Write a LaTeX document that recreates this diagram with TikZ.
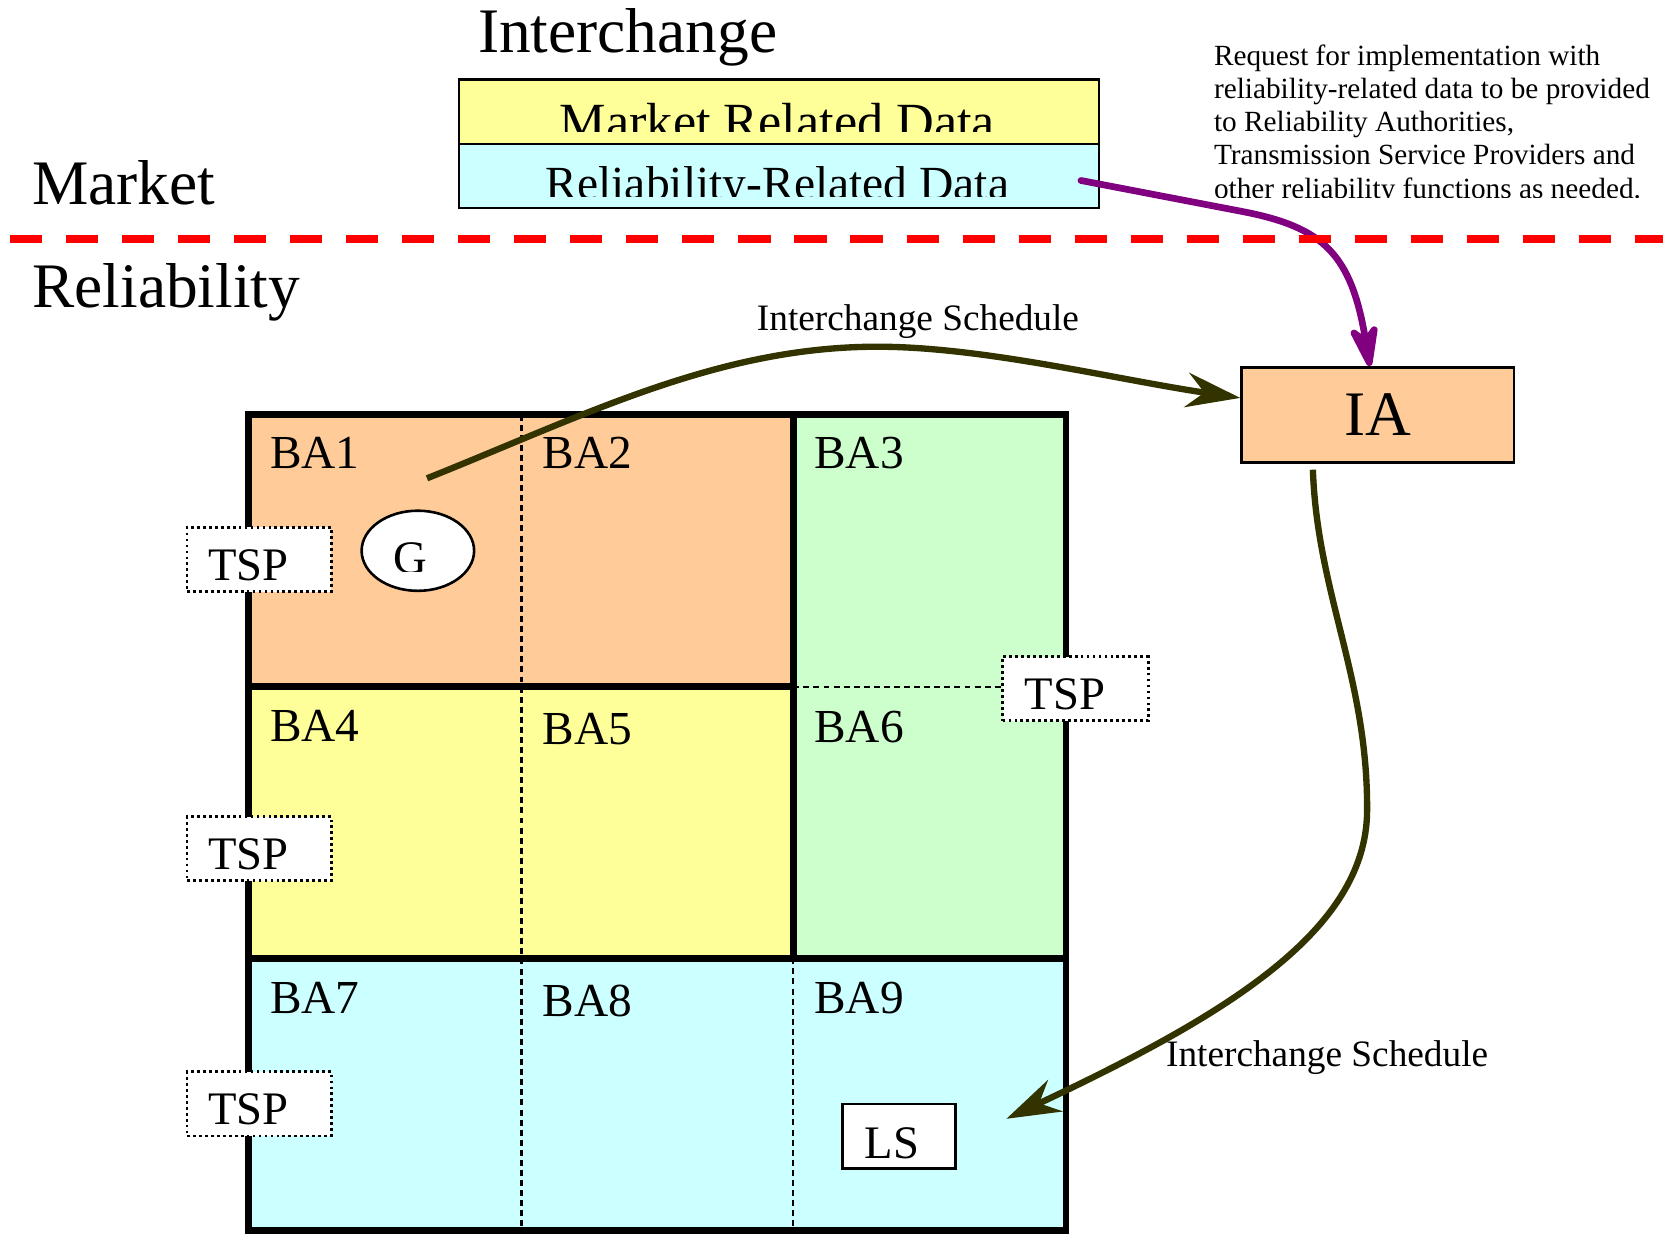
\documentclass[tikz,border=0pt]{standalone}
\usepackage{fontspec}
\setmainfont{Liberation Serif}
\usetikzlibrary{arrows.meta,shapes.geometric,calc}
\definecolor{baorange}{HTML}{FFCC99}
\definecolor{bayellow}{HTML}{FFFF99}
\definecolor{bagreen}{HTML}{CCFFCC}
\definecolor{bacyan}{HTML}{CCFFFF}
\definecolor{olivedark}{HTML}{333300}
\definecolor{arrowpurple}{HTML}{800080}
\definecolor{dashred}{HTML}{FF0000}
\newcommand\mytitlefont{\fontsize{17pt}{20pt}\selectfont}
\newcommand\mybafont{\fontsize{12.7pt}{15pt}\selectfont}
\newcommand\mytspfont{\fontsize{12.5pt}{15pt}\selectfont}
\newcommand\mynotefont{\fontsize{7.85pt}{9pt}\selectfont}
\newcommand\myschedfont{\fontsize{10pt}{12pt}\selectfont}
\tikzset{
  lbl/.style={inner sep=0pt, anchor=base west},
  gridthick/.style={line width=1.8pt},
  cellsep/.style={line width=0.6pt, dash pattern=on 1.6pt off 1.1pt},
  tspbox/.style={draw, fill=white, line width=0.75pt, dash pattern=on 0.75pt off 0.85pt,
    anchor=north west, inner xsep=2mm, inner ysep=0pt, text width=9.6mm, align=left,
    text height=5mm, text depth=1.05mm, font=\mytspfont},
  databox/.style={draw, line width=0.6pt, anchor=north west, inner sep=0pt,
    minimum width=6.03cm, minimum height=0.605cm},
  schedarrow/.style={draw=olivedark, line width=1.7pt,
    -{Stealth[length=14.5pt,width=9.3pt,inset=4.8pt]}},
  reqarrow/.style={draw=arrowpurple, line width=1.8pt, line cap=round,
    -{Stealth[length=14.5pt,width=9.3pt,inset=4.5pt,round=false]}},
  note/.style={inner sep=0pt, anchor=base west, font=\mynotefont},
}
\begin{document}
\begin{tikzpicture}[x=0.01cm,y=-0.01cm]
\useasboundingbox (0,0) rectangle (1568,1165.4);

% ---------- grid fills ----------
\fill[baorange] (234.5,391) rectangle (748,647);
\fill[bayellow] (234.5,647) rectangle (748,903.6);
\fill[bagreen]  (748,391) rectangle (1005,903.6);
\fill[bacyan]   (234.5,903.6) rectangle (1005,1160.5);

% thin dashed separators
\draw[cellsep] (491.8,391) -- (491.8,1160.5);
\draw[cellsep] (748,903.6) -- (748,1160.5);
\draw[cellsep] (748,647.4) -- (944,647.4);

% thick borders
\draw[gridthick] (234.5,391) rectangle (1005,1160.5);
\draw[gridthick] (748,391) -- (748,903.6);
\draw[gridthick] (234.5,647) -- (748,647);
\draw[gridthick] (234.5,903.6) -- (1005,903.6);

% BA labels
\node[lbl,font=\mybafont] (ba1) at (254,442) {BA1};
\node[lbl,font=\mybafont] (ba2) at (511,442) {BA2};
\node[lbl,font=\mybafont] (ba3) at (767,442) {BA3};
\node[lbl,font=\mybafont] (ba4) at (254,699) {BA4};
\node[lbl,font=\mybafont] (ba5) at (511,702) {BA5};
\node[lbl,font=\mybafont] (ba6) at (767,700.5) {BA6};
\node[lbl,font=\mybafont] (ba7) at (254,955.4) {BA7};
\node[lbl,font=\mybafont] (ba8) at (511,958.6) {BA8};
\node[lbl,font=\mybafont] (ba9) at (767,955.4) {BA9};

% TSP boxes
\node[tspbox] (tsp1) at (175,496) {TSP};
\node[tspbox] (tsp2) at (175,768.7) {TSP};
\node[tspbox] (tsp3) at (175,1009.2) {TSP};
\node[tspbox, inner xsep=2.1mm, text width=9.52mm] (tsp4) at (944,617.8) {TSP};

% G
\node[ellipse, draw, fill=white, line width=0.7pt, minimum width=1.06cm,
      minimum height=0.755cm, inner sep=0pt] (g) at (394,519.3) {};
\begin{scope}
  \clip (340,480) rectangle (450,538.5);
  \node[inner sep=0pt, anchor=base, font=\mytspfont] (glabel) at (387,541) {G};
\end{scope}

% LS
\node[draw, fill=white, line width=0.75pt, anchor=north west, inner xsep=2.07mm,
      inner ysep=0pt, text width=6.48mm, align=left, text height=5.09mm,
      text depth=1.0mm, font=\mytspfont] (ls) at (793.3,1039.7) {LS};

% IA
\node[draw, fill=baorange, line width=0.7pt, minimum width=2.568cm,
      minimum height=0.899cm, inner sep=0pt, font=\mytitlefont] (ia) at (1299.1,391.25) {IA};

% ---------- top area ----------
\node[lbl,font=\mytitlefont] (title) at (450,49.3) {Interchange};
\node[lbl,font=\mytitlefont] (market) at (29.8,192.4) {Market};
\node[lbl,font=\mytitlefont] (reliab) at (29.8,289.8) {Reliability};

\node[databox, fill=bayellow] (mrdbox) at (432,74) {};
\begin{scope}
  \clip (432,74) rectangle (1035,124);
  \node[inner sep=0pt, anchor=base, font=\fontsize{14pt}{16pt}\selectfont] (mrd) at (733,131.6) {Market Related Data};
\end{scope}
\node[databox, fill=bacyan] (rrdbox) at (432,134.5) {};
\begin{scope}
  \clip (432,134.5) rectangle (1035,185.5);
  \node[inner sep=0pt, anchor=base, font=\fontsize{12.75pt}{15pt}\selectfont] (rrd) at (733,188.4) {Reliability-Related Data};
\end{scope}

% annotation
\node[note] (n1) at (1144,61.3) {Request for implementation with};
\node[note] (n2) at (1144,92.7) {reliability-related data to be provided};
\node[note] (n3) at (1144,124.1) {to Reliability Authorities,};
\node[note] (n4) at (1144,155.5) {Transmission Service Providers and};
\begin{scope}
  \clip (1100,160) rectangle (1568,186.5);
  \node[note] (n5) at (1144,186.9) {other reliability functions as needed.};
\end{scope}

% schedule labels
\node[lbl,font=\myschedfont] (sched1) at (713,311.8) {Interchange Schedule};
\node[lbl,font=\myschedfont] (sched2) at (1098.8,1005.7) {Interchange Schedule};

% ---------- connectors ----------
\coordinate (gstart) at (402.6,451);
\coordinate (iawest) at ($(ia.north west)!0.326!(ia.south west)$);
\coordinate (iatop) at ($(ia.north west)!0.471!(ia.north east)$);
\coordinate (iabot) at ($(ia.south west)!0.264!(ia.south east)+(0,5.4)$);
\coordinate (lsend) at ($(ls.east)+(46.7,-16.6)$);
\coordinate (rrdstart) at ($(rrdbox.east)+(-18.3,4.35)$);

\draw[schedarrow] (gstart) .. controls (552.6,391) and (677.2,326.9) .. (827.2,326.9)
   .. controls (927.2,326.9) and (1050.7,357.6) .. (iawest);
\draw[schedarrow] (iabot) .. controls (1242,560) and (1290,640) .. (1289,765)
   .. controls (1288,880) and (1150,960) .. (lsend);
\draw[reqarrow] (rrdstart) -- (1172.3,199.6)
   .. controls (1247.3,214.3) and (1274.1,239.1) .. (iatop);

% market / reliability boundary
\coordinate (bl) at (9.6,225.3);
\coordinate (br) at (1568,225.3);
\draw[draw=dashred, line width=2pt, dash pattern=on 8.6pt off 6.42pt] (bl) -- (br);
\end{tikzpicture}
\end{document}
